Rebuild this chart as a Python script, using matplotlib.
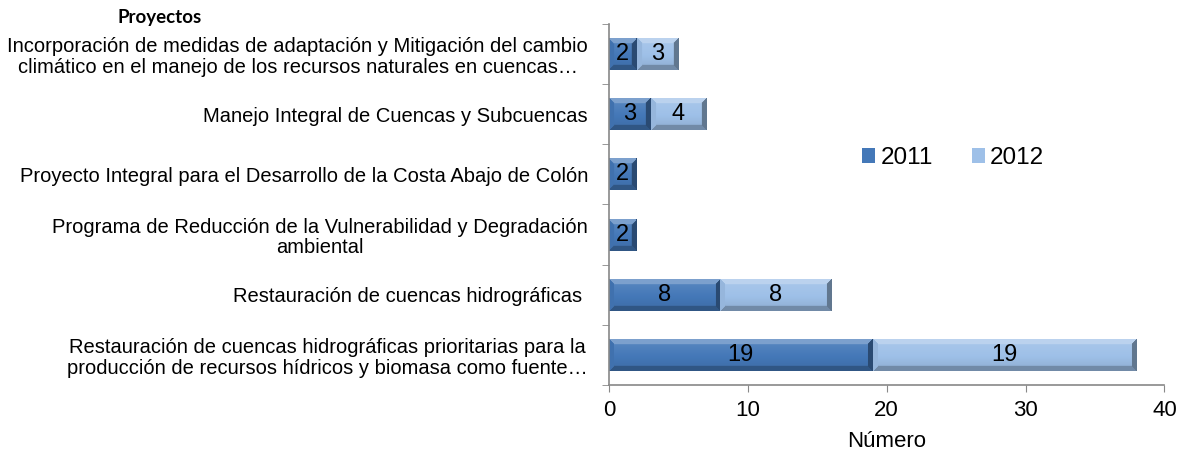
import numpy as np
import matplotlib
matplotlib.use("Agg")
import matplotlib.pyplot as plt
from matplotlib.colors import to_rgb

# categories listed top to bottom as in the chart
projects = [
    "Incorporación de medidas de adaptación y Mitigación del cambio\nclimático en el manejo de los recursos naturales en cuencas…",
    "Manejo Integral de Cuencas y Subcuencas",
    "Proyecto Integral para el Desarrollo de la Costa Abajo de Colón",
    "Programa de Reducción de la Vulnerabilidad y Degradación\nambiental",
    "Restauración de cuencas hidrográficas ",
    "Restauración de cuencas hidrográficas prioritarias para la\nproducción de recursos hídricos y biomasa como fuente…",
]
years = ["2011", "2012"]
v2011 = [2, 3, 2, 2, 8, 19]
v2012 = [3, 4, 0, 0, 8, 19]
xticks = [0, 10, 20, 30, 40]

COLORS = {"2011": "#4478b8", "2012": "#9ec0e8"}
LABEL_FONT = ["Liberation Sans Narrow", "Liberation Sans", "DejaVu Sans"]
NUM_FONT = ["Liberation Sans", "DejaVu Sans"]


def bevel(ax, patch, color, px_x, px_y, b=5.0):
    """Paint an Excel-like bevel gradient inside a bar patch."""
    x0, y0 = patch.get_x(), patch.get_y()
    w, h = patch.get_width(), patch.get_height()
    if w <= 0:
        return
    wp, hp = w * px_x, h * px_y
    nx, ny = max(int(wp), 2), max(int(hp), 2)
    X, Y = np.meshgrid(np.linspace(0, wp, nx), np.linspace(0, hp, ny))
    # row 0 of the image is the visual top of the bar
    dl, dr, dt, db = X, wp - X, Y, hp - Y
    shade = 0.12 - 0.22 * (Y / hp)
    dmin = np.minimum.reduce([dl, dr, dt, db])
    edge = dmin < b
    which = np.argmin(np.stack([dl, dr, dt, db]), axis=0)
    amt = {0: -0.05, 1: -0.38, 2: 0.30, 3: -0.28}
    for k, a in amt.items():
        m = edge & (which == k)
        shade[m] = a
    base = np.array(to_rgb(color))
    img = np.empty((ny, nx, 3))
    for c in range(3):
        ch = np.where(shade >= 0, base[c] + (1 - base[c]) * shade, base[c] * (1 + shade))
        img[..., c] = np.clip(ch, 0, 1)
    ext = (x0, x0 + w, y0 + h, y0)
    im = ax.imshow(img, extent=ext, aspect="auto", origin="upper",
                   interpolation="bilinear", zorder=2)
    im.set_clip_path(patch)


fig = plt.figure(figsize=(11.87, 4.59), dpi=100)
ax = fig.add_axes([0.513, 0.161, 0.468, 0.787])

y = np.arange(len(projects))
h = 0.53
bars1 = ax.barh(y, v2011, height=h, color=COLORS["2011"], label="2011", zorder=1)
bars2 = ax.barh(y, v2012, left=v2011, height=h, color=COLORS["2012"], label="2012", zorder=1)

ax.set_xlim(0, 40)
ax.set_ylim(len(projects) - 0.5, -0.5)
ax.set_xticks(xticks)
ax.set_yticks(y)
ax.set_yticklabels(projects, fontsize=14.5, family=LABEL_FONT, ha="right",
                   multialignment="center", linespacing=1.12)
ax.set_yticks(np.arange(len(projects) + 1) - 0.5, minor=True)
ax.tick_params(axis="y", which="major", length=0, pad=15)
ax.tick_params(axis="y", which="minor", length=5, color="#888888", direction="out")
ax.tick_params(axis="x", length=5, color="#888888", labelsize=16, pad=6)
for t in ax.get_xticklabels():
    t.set_family(NUM_FONT)
for s in ("top", "right"):
    ax.spines[s].set_visible(False)
for s in ("left", "bottom"):
    ax.spines[s].set_color("#888888")
    ax.spines[s].set_linewidth(1.2)
ax.set_xlabel("Número", fontsize=16, family=NUM_FONT, labelpad=7)

fig.canvas.draw()
p0 = ax.transData.transform((0, 0))
p1 = ax.transData.transform((1, 1))
px_x, px_y = abs(p1[0] - p0[0]), abs(p1[1] - p0[1])
for bars, yr in ((bars1, "2011"), (bars2, "2012")):
    for p in bars:
        bevel(ax, p, COLORS[yr], px_x, px_y)
        if p.get_width() > 0:
            ax.text(p.get_x() + p.get_width() / 2, p.get_y() + p.get_height() / 2,
                    f"{p.get_width():g}", ha="center", va="center",
                    fontsize=17, family=NUM_FONT, zorder=3)

fig.legend(handles=[bars1, bars2], labels=years, loc="center",
           bbox_to_anchor=(953 / 1187, 1 - 158 / 459), ncol=2, frameon=False,
           prop={"family": NUM_FONT, "size": 17.5}, handlelength=0.55,
           handleheight=0.55, handletextpad=0.2, columnspacing=1.6)

fig.text(160 / 1187, 1 - 18 / 459, "Proyectos", fontsize=13.5, fontweight="bold",
         family=["Lato", "Liberation Sans"], ha="center", va="center")

fig.savefig("out.png", dpi=100)
